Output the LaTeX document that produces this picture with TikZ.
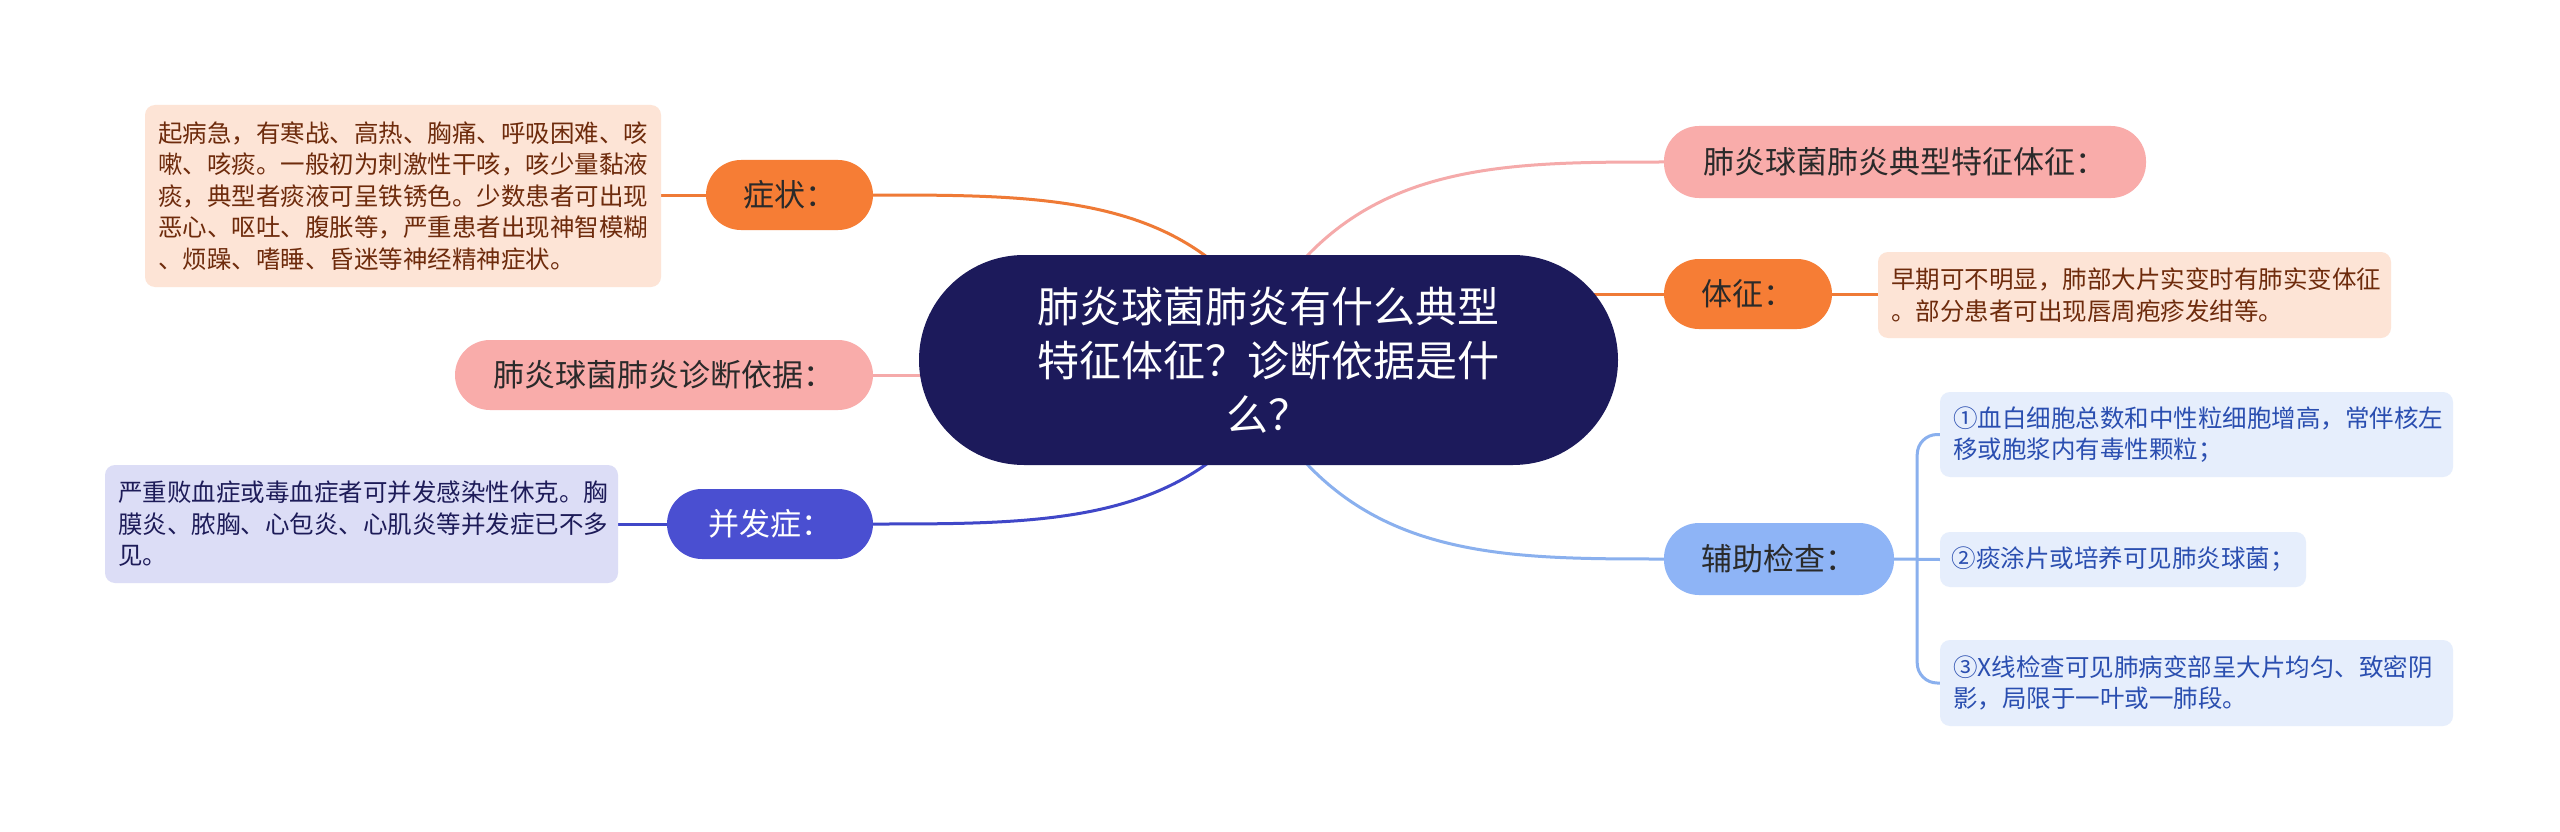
\documentclass[tikz,border=0pt]{standalone}
\usepackage{fontspec}
\setmainfont{Noto Sans CJK SC}
\usetikzlibrary{backgrounds,calc}
\definecolor{navy}{HTML}{1C1A5B}
\definecolor{orangeF}{HTML}{F67D35}
\definecolor{orangeL}{HTML}{EF7A36}
\definecolor{pinkF}{HTML}{F9ACAA}
\definecolor{pinkL}{HTML}{F5AAAA}
\definecolor{blueF}{HTML}{4A4FD1}
\definecolor{blueL}{HTML}{4047C8}
\definecolor{lblueF}{HTML}{8EB4F6}
\definecolor{lblueL}{HTML}{8AB0EE}
\definecolor{peach}{HTML}{FDE4D6}
\definecolor{brownT}{HTML}{6E2B0C}
\definecolor{lav}{HTML}{DCDDF6}
\definecolor{lavT}{HTML}{1D1B58}
\definecolor{lbox}{HTML}{E6EEFC}
\definecolor{lboxT}{HTML}{2A4EB0}
\definecolor{darkT}{HTML}{2A2A2A}
\tikzset{
  branch/.style={rounded corners=35pt, minimum height=70pt, inner sep=0pt,
    font=\fontsize{31}{36}\selectfont, text=darkT},
  detail/.style={rounded corners=10pt, inner xsep=13pt, inner ysep=0pt, align=left,
    font=\fontsize{24.5}{31.5}\selectfont},
  conn/.style={line width=3pt}
}
\begin{document}
\begin{tikzpicture}[x=1pt,y=-1pt]
\useasboundingbox (0,0) rectangle (2560,832);

% central node
\node[fill=navy, text=white, rounded corners=105pt, minimum width=699pt, minimum height=210pt,
  inner sep=0pt, align=center, font=\fontsize{42}{54}\selectfont] (c) at (1268.5,360)
  {肺炎球菌肺炎有什么典型\\特征体征？诊断依据是什\\么？};

% branch nodes
\node[branch, fill=orangeF, minimum width=167pt] (zz) at (789.5,195) {症状：};
\node[branch, fill=pinkF, minimum width=418pt] (zd) at (664,375) {肺炎球菌肺炎诊断依据：};
\node[branch, fill=blueF, text=white, minimum width=206pt] (bf) at (770,524) {并发症：};
\node[branch, fill=pinkF, minimum width=482pt, minimum height=72pt] (dx) at (1905,162) {肺炎球菌肺炎典型特征体征：};
\node[branch, fill=orangeF, minimum width=168pt] (tz) at (1748,294) {体征：};
\node[branch, fill=lblueF, minimum width=230pt, minimum height=72pt] (fz) at (1779,559) {辅助检查：};

% detail boxes
\node[detail, fill=peach, text=brownT, text width=490pt, minimum height=182pt] (zzd) at (403,196)
  {起病急，有寒战、高热、胸痛、呼吸困难、咳\\嗽、咳痰。一般初为刺激性干咳，咳少量黏液\\痰，典型者痰液可呈铁锈色。少数患者可出现\\恶心、呕吐、腹胀等，严重患者出现神智模糊\\、烦躁、嗜睡、昏迷等神经精神症状。};
\node[detail, fill=peach, text=brownT, text width=487pt, minimum height=86pt] (tzd) at (2134.5,295)
  {早期可不明显，肺部大片实变时有肺实变体征\\。部分患者可出现唇周疱疹发绀等。};
\node[detail, fill=lav, text=lavT, text width=487pt, minimum height=118pt] (bfd) at (361.5,524)
  {严重败血症或毒血症者可并发感染性休克。胸\\膜炎、脓胸、心包炎、心肌炎等并发症已不多\\见。};
\node[detail, fill=lbox, text=lboxT, text width=487pt, minimum height=85pt] (f1) at (2196.5,434.5)
  {①血白细胞总数和中性粒细胞增高，常伴核左\\移或胞浆内有毒性颗粒；};
\node[detail, fill=lbox, text=lboxT, text width=343pt, inner xsep=11.5pt, minimum height=55pt] (f2) at (2123,559.5)
  {②痰涂片或培养可见肺炎球菌；};
\node[detail, fill=lbox, text=lboxT, text width=487pt, minimum height=86pt] (f3) at (2196.5,683)
  {③X线检查可见肺病变部呈大片均匀、致密阴\\影，局限于一叶或一肺段。};

% connectors
\coordinate (co) at (1207,257);
\coordinate (cp) at (1306,257);
\coordinate (cb) at (1208,463);
\coordinate (cl) at (1306,463);
\begin{scope}[on background layer]
  \fill[white] (0,0) rectangle (2560,832);
  \draw[conn, orangeL] (co) .. controls (1124,195) and (1010,195) .. (zz.east);
  \draw[conn, pinkL] (cp) .. controls (1396,162) and (1521,162) .. (dx.west);
  \draw[conn, blueL] (cb) .. controls (1124,524) and (1010,524) .. (bf.east);
  \draw[conn, lblueL] (cl) .. controls (1396,559) and (1521,559) .. (fz.west);
  \draw[conn, pinkL] (c.center |- zd.east) -- (zd.east);
  \draw[conn, orangeL] (c.center |- tz.west) -- (tz.west);
  \draw[conn, orangeL] (zzd.east |- zz.west) -- (zz.west);
  \draw[conn, orangeL] (tz.east) -- (tzd.west |- tz.east);
  \draw[conn, blueL] (bfd.east) -- (bf.west);
  \draw[conn, lblueL] (fz.east) -- (f2.west);
  \draw[conn, lblueL, rounded corners=20pt] (f1.west) -| ($(fz.east)+(23,0)$) |- (f3.west);
\end{scope}
\end{tikzpicture}
\end{document}
